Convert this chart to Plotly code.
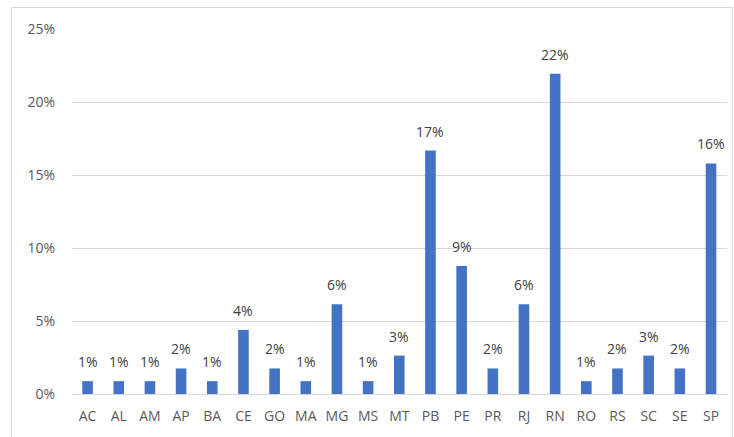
import plotly.graph_objects as go

states = ["AC", "AL", "AM", "AP", "BA", "CE", "GO", "MA", "MG", "MS", "MT",
          "PB", "PE", "PR", "RJ", "RN", "RO", "RS", "SC", "SE", "SP"]
shares = [0.0088, 0.0088, 0.0088, 0.0175, 0.0088, 0.0439, 0.0175, 0.0088, 0.0614, 0.0088, 0.0263,
          0.1667, 0.0877, 0.0175, 0.0614, 0.2193, 0.0088, 0.0175, 0.0263, 0.0175, 0.1579]
y_ticks = [0, 0.05, 0.10, 0.15, 0.20, 0.25]

W, H = 734, 437
ml, mr, mt, mb = 72, 7, 29, 43
pw, ph = W - ml - mr, H - mt - mb

font = "Open Sans, Liberation Sans, sans-serif"

fig = go.Figure(go.Bar(
    x=states, y=shares,
    marker=dict(color="#4472C4", line=dict(width=0)),
    hovertemplate="%{x}: %{y:.1%}<extra></extra>",
))

# value labels sitting a little above each bar
for s, v in zip(states, shares):
    fig.add_annotation(x=s, y=v, text=f"{v:.0%}", showarrow=False,
                       yanchor="bottom", yshift=8,
                       font=dict(family=font, size=14, color="#404040"))

# outer chart-area frame
fig.add_shape(type="rect", xref="paper", yref="paper",
              x0=(11.5 - ml) / pw, x1=(732.5 - ml) / pw,
              y0=(H - mb - 445) / ph, y1=(H - mb - 7.5) / ph,
              line=dict(color="#d9d9d9", width=1), fillcolor="rgba(0,0,0,0)", layer="below")

fig.update_layout(
    width=W, height=H,
    margin=dict(l=ml, r=mr, t=mt, b=mb),
    paper_bgcolor="white", plot_bgcolor="white",
    bargap=0.66, showlegend=False,
    font=dict(family=font, size=14, color="#595959"),
    xaxis=dict(showgrid=False, showline=False, ticks="", ticklabelstandoff=12,
               tickfont=dict(size=14, color="#595959")),
    yaxis=dict(range=[0, 0.25], tickvals=y_ticks, tickformat=".0%",
               showgrid=True, gridcolor="#d9d9d9", gridwidth=1,
               zeroline=True, zerolinecolor="#d9d9d9", zerolinewidth=1,
               showline=False, ticks="", ticklabelstandoff=16,
               tickfont=dict(size=14, color="#595959")),
)

fig.write_html("out.html")
